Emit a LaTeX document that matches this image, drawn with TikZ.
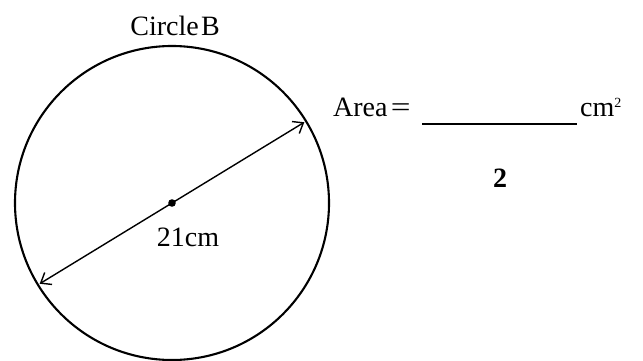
\documentclass[tikz,border=0pt]{standalone}
\usepackage{fontspec}
\setmainfont{Liberation Serif}
\usetikzlibrary{arrows.meta}
\begin{document}
\begin{tikzpicture}[x=1pt,y=-1pt,
  lbl/.style={inner sep=0pt,anchor=base,font=\fontsize{28}{32}\selectfont},
  dim/.style={line width=1.4pt,{Straight Barb[length=9pt,width=14pt,line width=1.4pt]}-{Straight Barb[length=9pt,width=14pt,line width=1.4pt]}}]
\useasboundingbox (0,0) rectangle (643,361);
\coordinate (c) at (172,203);
\draw[line width=2.1pt] (c) circle[radius=157];
\fill (c) circle[radius=3.8];
\path (c) ++(-31.4:-155) coordinate (a2);
\path (c) ++(-31.4:155) coordinate (a1);
\draw[dim] (a2) -- (a1);
\node[lbl] (title) at (175,36) {Circle\kern0.08em B};
\node[lbl] (d) at (188,246) {21cm};
\node[lbl,anchor=base west] (area) at (333,117) {Area\kern0.12em\scalebox{1.25}[1]{=}};
\coordinate (l1) at (422,124);
\coordinate (l2) at (577,124);
\draw[line width=1.4pt] (l1) -- (l2);
\node[lbl,anchor=base west] (unit) at (580,117) {cm\textsuperscript{\fontsize{14}{15}\selectfont 2}};
\node[lbl,font=\fontsize{28}{30}\selectfont\bfseries] (num) at (500,187) {2};
\end{tikzpicture}
\end{document}
